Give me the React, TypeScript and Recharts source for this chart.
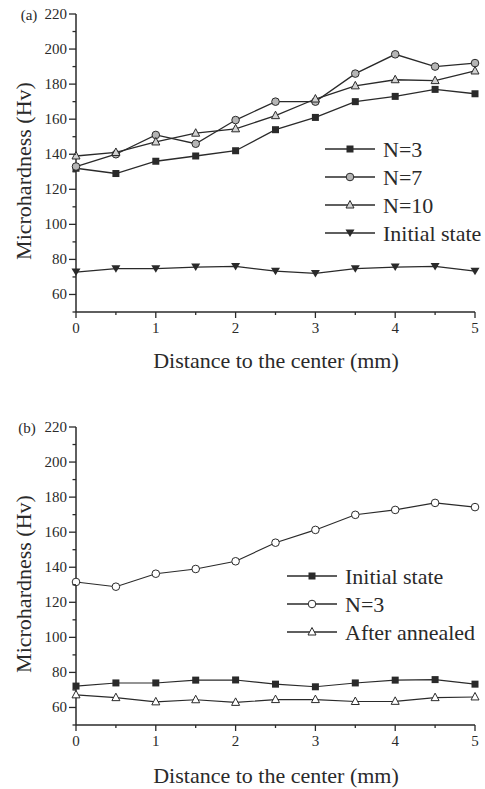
import { LineChart, Line, XAxis, YAxis } from "recharts";

const distance = [0, 0.5, 1, 1.5, 2, 2.5, 3, 3.5, 4, 4.5, 5];

// (a)
const aN3 = [132, 129, 136, 139, 142, 154, 161, 170, 173, 177, 174.5];
const aN7 = [133, 140, 151, 146, 159.5, 170, 170, 186, 197, 190, 192];
const aN10 = [139, 141, 147, 152, 154.5, 162, 171.5, 179, 182.5, 182, 187.5];
const aInitial = [72.8, 74.7, 74.7, 75.6, 76, 73.3, 72, 74.7, 75.6, 76, 73.3];

// (b)
const bInitial = [72.2, 74, 74, 75.6, 75.7, 73.3, 71.8, 74, 75.6, 75.9, 73.3];
const bN3 = [131.6, 128.9, 136.3, 139, 143.4, 154, 161.3, 169.9, 172.7, 176.7, 174.3];
const bAnnealed = [67.2, 65.6, 63.2, 64.4, 62.9, 64.5, 64.5, 63.4, 63.5, 65.6, 66];

const xTicks = [0, 0.5, 1, 1.5, 2, 2.5, 3, 3.5, 4, 4.5, 5];
const xLabels = [0, 1, 2, 3, 4, 5];
const yTicks = [50, 60, 70, 80, 90, 100, 110, 120, 130, 140, 150, 160, 170, 180, 190, 200, 210, 220];
const yLabels = [60, 80, 100, 120, 140, 160, 180, 200, 220];

const rowsA = distance.map((d, i) => ({ d, n3: aN3[i], n7: aN7[i], n10: aN10[i], init: aInitial[i] }));
const rowsB = distance.map((d, i) => ({ d, init: bInitial[i], n3: bN3[i], ann: bAnnealed[i] }));

const INK = "#2a2a2a";
const FONT = '"Liberation Serif", "Times New Roman", serif';

type Kind = "square" | "circle" | "up" | "down";

const Marker = ({ cx, cy, kind, fill }: { cx: number; cy: number; kind: Kind; fill?: string }) => {
  if (cx == null || cy == null) return null;
  if (kind === "square") return <rect x={cx - 3.5} y={cy - 3.5} width={7} height={7} fill={INK} />;
  if (kind === "circle") return <circle cx={cx} cy={cy} r={3.8} fill={fill || "#fff"} stroke={INK} strokeWidth={1} />;
  if (kind === "up")
    return <polygon points={`${cx},${cy - 4.5} ${cx + 4},${cy + 3} ${cx - 4},${cy + 3}`} fill={fill || "#fff"} stroke={INK} strokeWidth={1} />;
  return <polygon points={`${cx - 4.5},${cy - 3.5} ${cx + 4.5},${cy - 3.5} ${cx},${cy + 4}`} fill={INK} />;
};

const dotOf = (kind: Kind, fill?: string) => (p: any) => (
  <Marker key={`m-${kind}-${p.index}`} cx={p.cx} cy={p.cy} kind={kind} fill={fill} />
);

const XTick = (p: any) => {
  const v = p.payload.value;
  const major = xLabels.includes(v);
  return (
    <g>
      <line x1={p.x} x2={p.x} y1={p.y} y2={p.y + (major ? 6 : 3)} stroke={INK} strokeWidth={1.3} />
      {major && (
        <text x={p.x} y={p.y + 16} textAnchor="middle" dominantBaseline="central" fontSize={15} fill={INK} fontFamily={FONT}>
          {v}
        </text>
      )}
    </g>
  );
};

const YTick = (p: any) => {
  const v = p.payload.value;
  const major = yLabels.includes(v);
  return (
    <g>
      <line x1={p.x - (major ? 7 : 3.5)} x2={p.x} y1={p.y} y2={p.y} stroke={INK} strokeWidth={1.3} />
      {major && (
        <text x={p.x - 9} y={p.y} textAnchor="end" dominantBaseline="central" fontSize={15} fill={INK} fontFamily={FONT}>
          {v}
        </text>
      )}
    </g>
  );
};

const Axes = () => null;

const legendA: { name: string; kind: Kind; fill?: string }[] = [
  { name: "N=3", kind: "square" },
  { name: "N=7", kind: "circle", fill: "#b5b5b5" },
  { name: "N=10", kind: "up", fill: "#d2d2d2" },
  { name: "Initial state", kind: "down" },
];
const legendB: { name: string; kind: Kind; fill?: string }[] = [
  { name: "Initial state", kind: "square" },
  { name: "N=3", kind: "circle" },
  { name: "After annealed", kind: "up" },
];

const LegendBlock = ({ items, x, y }: { items: typeof legendA; x: number; y: number }) => (
  <g>
    {items.map((it, i) => {
      const cy = y + i * 28;
      return (
        <g key={it.name}>
          <line x1={x} x2={x + 50} y1={cy} y2={cy} stroke={INK} strokeWidth={1.3} />
          <Marker cx={x + 25} cy={cy} kind={it.kind} fill={it.fill} />
          <text x={x + 58} y={cy} dominantBaseline="central" fontSize={22} fill={INK} fontFamily={FONT}>
            {it.name}
          </text>
        </g>
      );
    })}
  </g>
);

export default function App() {
  const axisLine = { stroke: INK, strokeWidth: 1.5 };
  return (
    <div style={{ position: "absolute", left: 0, top: 0, width: 485, height: 789, background: "#fff" }}>
      <div style={{ position: "absolute", left: 0, top: 0 }}>
        <LineChart width={485} height={395} data={rowsA} margin={{ top: 14, right: 10, bottom: 53, left: 0 }}>
          <XAxis dataKey="d" type="number" domain={[0, 5]} ticks={xTicks} interval={0} tick={XTick} tickLine={false} tickSize={0} tickMargin={0} height={30} axisLine={axisLine} />
          <YAxis type="number" domain={[50, 220]} ticks={yTicks} interval={0} tick={YTick} tickLine={false} tickSize={0} tickMargin={0} width={76} axisLine={axisLine} />
          <Line dataKey="n3" stroke={INK} strokeWidth={1.3} dot={dotOf("square")} isAnimationActive={false} />
          <Line dataKey="n7" stroke={INK} strokeWidth={1.3} dot={dotOf("circle", "#b5b5b5")} isAnimationActive={false} />
          <Line dataKey="n10" stroke={INK} strokeWidth={1.3} dot={dotOf("up", "#d2d2d2")} isAnimationActive={false} />
          <Line dataKey="init" stroke={INK} strokeWidth={1.3} dot={dotOf("down")} isAnimationActive={false} />
        </LineChart>
      </div>
      <div style={{ position: "absolute", left: 0, top: 395 }}>
        <LineChart width={485} height={394} data={rowsB} margin={{ top: 32, right: 10, bottom: 34, left: 0 }}>
          <XAxis dataKey="d" type="number" domain={[0, 5]} ticks={xTicks} interval={0} tick={XTick} tickLine={false} tickSize={0} tickMargin={0} height={30} axisLine={axisLine} />
          <YAxis type="number" domain={[50, 220]} ticks={yTicks} interval={0} tick={YTick} tickLine={false} tickSize={0} tickMargin={0} width={76} axisLine={axisLine} />
          <Line dataKey="init" stroke={INK} strokeWidth={1.1} dot={dotOf("square")} isAnimationActive={false} />
          <Line dataKey="n3" stroke={INK} strokeWidth={1.1} dot={dotOf("circle")} isAnimationActive={false} />
          <Line dataKey="ann" stroke={INK} strokeWidth={1.1} dot={dotOf("up")} isAnimationActive={false} />
        </LineChart>
      </div>
      <svg width={485} height={789} style={{ position: "absolute", left: 0, top: 0, pointerEvents: "none" }}>
        <Axes />
        <text x={29} y={15} textAnchor="middle" dominantBaseline="central" fontSize={15} fill={INK} fontFamily={FONT}>(a)</text>
        <text x={27} y={428} textAnchor="middle" dominantBaseline="central" fontSize={15} fill={INK} fontFamily={FONT}>(b)</text>
        <text transform="rotate(-90 23 171)" x={23} y={171} textAnchor="middle" dominantBaseline="central" fontSize={22} fill={INK} fontFamily={FONT}>
          Microhardness (Hv)
        </text>
        <text transform="rotate(-90 23 584)" x={23} y={584} textAnchor="middle" dominantBaseline="central" fontSize={22} fill={INK} fontFamily={FONT}>
          Microhardness (Hv)
        </text>
        <text x={276} y={360} textAnchor="middle" dominantBaseline="central" fontSize={22} fill={INK} fontFamily={FONT}>
          Distance to the center (mm)
        </text>
        <text x={276} y={775} textAnchor="middle" dominantBaseline="central" fontSize={22} fill={INK} fontFamily={FONT}>
          Distance to the center (mm)
        </text>
        <LegendBlock items={legendA} x={325} y={149} />
        <LegendBlock items={legendB} x={287} y={576} />
      </svg>
    </div>
  );
}
